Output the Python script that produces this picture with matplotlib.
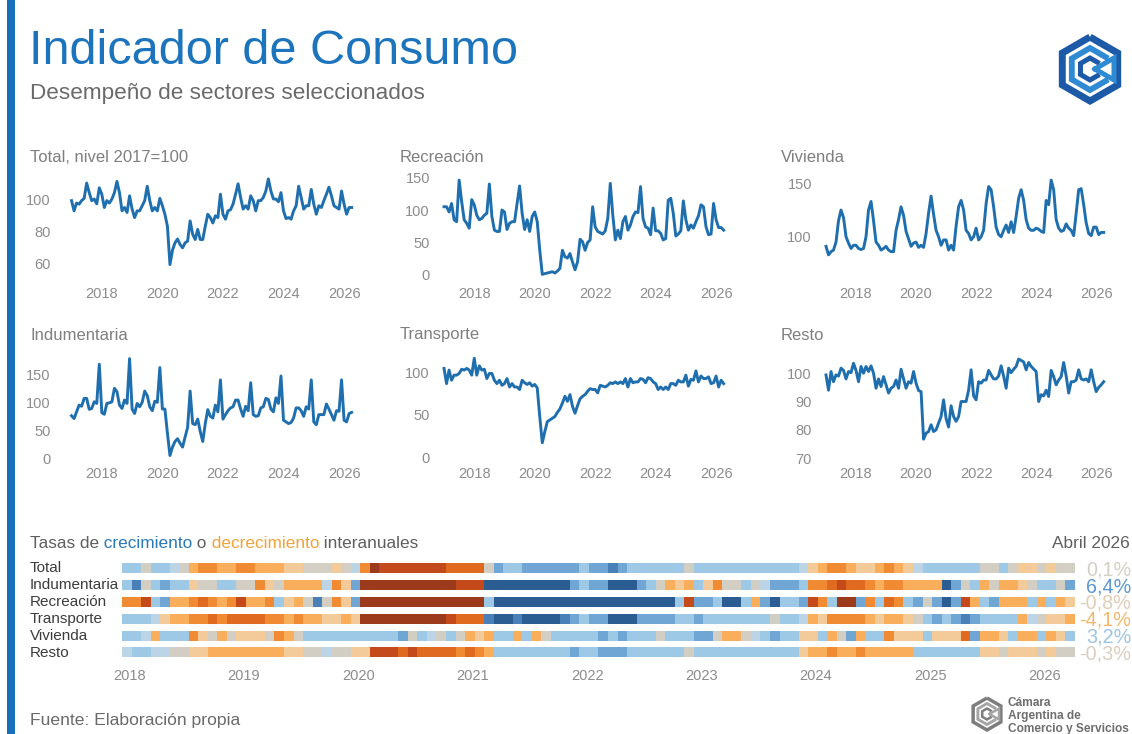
import numpy as np
import matplotlib
matplotlib.use('Agg')
import matplotlib.pyplot as plt
from matplotlib.colors import ListedColormap, BoundaryNorm, LinearSegmentedColormap
from matplotlib.patches import Rectangle
from matplotlib.transforms import blended_transform_factory

plt.rcParams['font.family'] = ['Liberation Sans', 'DejaVu Sans']

# ---------------- data: monthly indices, Jan 2017 - Apr 2026 (2017=100) ----------------
total = [99, 92.6, 97.5, 96.8, 99, 100.4, 110, 104, 99, 100, 97, 107,
         103, 94.7, 99, 97.5, 100, 104, 111, 104, 92.6, 94.7, 91.6, 102,
         93.7, 88.4, 92.6, 92.6, 95.8, 99, 108, 99, 92.6, 94.7, 92.6, 100.4,
         95.8, 90.5, 83, 59, 68, 72.6, 75, 71.6, 69.5, 72.6, 73.7, 86.3,
         78, 74.7, 81, 74.7, 74.7, 83, 90.5, 88.4, 85, 89.5, 88.4, 103,
         90.5, 87.4, 92.6, 93.3, 96.8, 103, 109.5, 101, 93.7, 95.8, 93.7, 102,
         99, 92.6, 99, 99, 101, 105, 112.6, 105, 100, 100, 98.3, 104,
         92.6, 87.8, 88.4, 87.4, 92.6, 95.8, 108, 101, 93.7, 95.8, 95.8, 106,
         96.8, 90.5, 95.8, 94.7, 99, 103, 107.4, 102, 95.8, 94.7, 93.7, 105,
         96.8, 90.5, 94.7, 94.7]

recreacion = [105, 105, 97, 110, 85, 82, 146, 113, 85, 79.5, 72, 116,
              108, 92, 85, 87, 92, 95, 140, 90, 69, 67, 67, 100,
              97, 70, 79.5, 82, 82, 110, 137, 95, 70, 85, 67, 90,
              97, 82, 38, 1, 2, 3, 4, 5, 3, 6, 10, 38,
              28, 26, 33, 20, 8, 20, 55, 51, 38, 50, 54, 105,
              74, 67, 65, 63, 68, 87, 141, 92, 54, 69, 56, 82,
              90, 69, 77, 90, 97, 96, 136, 87, 74, 72, 62, 103,
              68, 68, 64, 54, 56, 115, 118, 95, 60, 63, 68, 114,
              85, 69, 77, 72, 82, 91, 108, 105, 74, 62, 63, 110,
              85, 73, 73, 69]

vivienda = [91, 83, 86, 87.5, 95, 115, 125, 118, 100, 94, 89, 92,
            92, 89, 88, 89, 100, 125, 133, 115, 95, 92, 87.5, 89,
            91, 87.5, 86, 86, 106, 116, 128, 120, 105, 98, 91, 94,
            95, 90, 92, 90, 103, 122, 138, 121, 106, 100, 92, 97,
            97, 87.5, 92, 87.5, 110, 128, 134, 125, 106, 103, 97, 100,
            108, 97, 100, 106, 131, 147, 144, 128, 109, 102, 100, 106,
            111, 104, 114, 104, 119, 136, 144, 134, 116, 108, 106, 106,
            108, 107, 105, 104, 134, 130, 153, 144, 116, 108, 105, 106,
            112, 108, 106, 101, 122, 144, 145, 130, 113, 103, 101, 109,
            109, 102, 104, 104]

indumentaria = [76, 71, 83, 95, 93, 107, 107, 87.5, 89, 101, 98, 168,
                81.5, 78.6, 98, 99, 101, 125, 119, 95, 89, 104, 98, 178,
                88, 80, 98, 92, 100, 120, 112, 92, 85, 102, 100, 162,
                88, 88, 45, 5, 20, 30, 35, 27, 20, 38, 55, 120,
                62, 60, 70, 48, 30, 62, 87, 75, 72, 95, 83, 140,
                70, 78, 85, 90, 92, 104, 104, 88, 75, 93, 85, 135,
                78, 75, 76, 90, 92, 107, 105, 88, 83, 108, 98, 147,
                68, 65, 62, 64, 72, 90, 90, 85, 75, 92, 88, 140,
                65, 60, 78, 78, 78, 97, 88, 78, 68, 85, 84, 140,
                68, 65, 80, 82]

transporte = [105, 87, 103, 91, 97, 97, 99, 104, 103, 105, 103, 97,
              117, 97, 108, 103, 104, 93, 99, 99, 91, 87, 91, 85,
              87, 93, 83, 87, 83, 83, 80, 91, 88, 86, 88, 84,
              86, 82, 48, 17, 30, 42, 44, 46, 48, 53, 57, 64,
              72, 66, 74, 60, 52, 61, 69, 72, 74, 78, 81, 80,
              80, 76, 85, 84, 83, 85, 88, 87, 89, 87, 89, 87,
              93, 83, 93, 88, 89, 89, 93, 92, 88, 94, 93, 89,
              87, 80, 83, 80, 83, 80, 87, 87, 85, 91, 89, 89,
              97, 84, 92, 91, 102, 89, 96, 93, 93, 95, 87, 88,
              96, 83, 91, 87]

resto = [99.4, 94, 100.6, 97, 99.4, 99, 101.8, 101, 98, 100.6, 100.2, 103.5,
         101, 97, 102.4, 100, 102.4, 100.6, 102.6, 100, 94.7, 98, 95.3, 98.8,
         95.9, 93, 94.7, 95.3, 97.6, 94.7, 101.4, 98, 94.7, 97, 96.5, 100.6,
         96.5, 93.9, 93.5, 76.7, 78.8, 79.4, 81.8, 79.4, 80, 82.4, 84.7, 90.6,
         84, 81, 88.5, 84.7, 83, 84.7, 90, 90, 90, 94, 101.2, 92,
         90.6, 97, 96.5, 97.6, 97.6, 101, 99.4, 98, 98, 99, 102.6, 99,
         94.7, 101.8, 100.2, 101.4, 102.4, 105, 104.5, 104, 101.2, 103.8, 102.4, 101.5,
         100.6, 90, 92.4, 92, 94, 91.8, 101, 98.8, 95.9, 97.6, 98.8, 103.8,
         99, 93, 97, 97, 97.6, 101.2, 98, 97.6, 98, 97, 101.2, 97,
         93.5, 95, 95.9, 97]

# ---------------- data: year-on-year growth (%), Jan 2018 - Apr 2026 ----------------
heat_labels = ["Total", "Indumentaria", "Recreación", "Transporte", "Vivienda", "Resto"]
g_total = [3, 3, 0, 3, 3, 1, 0, -5, -7, -7,
           -5, -5, -7, -7, -5, -5, -5, -3, -3, 0,
           0, 0, -2, 0, 2, -10, -30, -25, -25, -20,
           -25, -20, -20, -20, -15, -12, -12, -12, 0, 10,
           5, 5, 10, 10, 10, 10, 7, 7, 5, 7,
           10, 15, 10, 5, 5, 5, 3, 3, 3, 0,
           3, 3, 3, 3, 3, 3, 3, 3, 5, 5,
           5, 1, -3, -5, -7, -7, -5, -3, -3, -5,
           -7, -5, -3, 1, 3, 5, 5, 3, 3, 3,
           0, 0, 3, 0, -2, -1, 0, -2, 0, 0.1]
g_indum = [5, 15, 0, 5, 10, 5, 5, -2, 0, 0,
           5, 5, 0, 0, -7, -3, 0, -5, -5, -5,
           -5, 2, -10, -2, 10, -40, -40, -40, -40, -40,
           -40, -40, -40, -40, -40, -20, -20, -25, 40, 40,
           40, 40, 40, 40, 40, 40, 40, 7, 5, 10,
           7, 30, 30, 30, 10, 5, 0, -5, -3, -5,
           5, -2, -10, 0, 0, 5, 0, 1, 10, 10,
           10, 5, -10, -10, -15, -25, -15, -15, -10, -5,
           -10, -10, -5, -5, -5, -5, 30, 10, 0, 5,
           -5, 0, -5, -5, -2, 0, 5, 5, 0, 6.4]
g_recre = [-10, -10, -20, 5, 10, -5, -5, -10, -12, -10,
           -5, -10, -20, -5, -5, -10, 5, -2, -5, 0,
           15, 0, -10, -1, 7, -40, -40, -40, -40, -40,
           -40, -40, -40, -40, -40, -40, -40, -40, 5, 40,
           40, 40, 40, 40, 40, 40, 40, 40, 40, 40,
           40, 40, 40, 40, 40, 40, 30, 30, 5, -20,
           10, 10, 5, 30, 30, 5, -5, 10, 30, 5,
           5, 10, -20, -10, 3, -30, -30, 10, -10, 5,
           -12, -10, 5, 10, 0, 10, 30, 10, -20, -5,
           5, 10, -5, -5, -5, 3, -5, 3, -5, -0.8]
g_transp = [5, 5, 3, 2, -3, -5, -5, -10, -10, -15,
            -10, -15, -12, -12, -12, -10, -10, -5, -10, -5,
            -5, -3, -3, -5, -2, -40, -40, -40, -40, -40,
            -40, -40, -40, -30, -20, -15, -12, -15, 15, 30,
            30, 20, 30, 30, 30, 30, 20, 10, 5, 10,
            10, 30, 30, 30, 10, 10, 10, 7, 5, 5,
            10, 5, 5, 5, 5, 5, 5, 5, 0, 5,
            5, 1, -5, -3, -7, -7, -7, -8, -5, -3,
            -5, -5, -3, 0, 5, 7, 5, 10, 15, 10,
            5, 5, 5, 5, -5, 2, 0, -2, -2, -4.1]
g_vivi = [3, 3, 1, -5, 5, 5, 5, -7, -1, 0,
          -5, 0, -1, -2, -2, 0, -7, -5, 0, 5,
          5, 3, 3, 3, 3, 3, 3, 3, 5, 7,
          0, 3, 2, 0, 3, 0, -5, -1, -5, 3,
          3, -5, 3, -5, 0, 3, 3, 5, 5, 5,
          10, 5, 7, 5, 5, 5, 0, 3, 5, 3,
          7, 10, 0, -5, -5, 0, 1, 5, 10, 5,
          5, -2, -2, 5, -5, 0, 10, -5, 5, 5,
          -7, -2, -2, -2, 3, -2, -2, -1, -15, 10,
          -5, -5, -2, 5, -5, -5, 3, -5, -2, 3.2]
g_resto = [2, 3, 3, 2, 2, 0, 0, -3, -3, -5,
           -5, -5, -5, -5, -5, -5, -5, -3, -3, 0,
           0, 2, 0, 0, -1, -2, -20, -20, -20, -15,
           -20, -15, -15, -12, -12, -10, -12, -10, -5, 5,
           5, 3, 3, 5, 5, 5, 5, 7, 5, 5,
           7, 10, 10, 5, 5, 5, 5, 5, 3, 0,
           5, 5, 5, 5, 5, 5, 5, 5, 5, 5,
           5, -1, -5, -5, -8, -5, -5, -8, -5, -5,
           -5, -5, -5, 3, 3, 5, 5, 5, 3, 3,
           -1, -1, 0, -2, -3, -3, 0, -2, 0, -0.3]
heat_rows = [g_total, g_indum, g_recre, g_transp, g_vivi, g_resto]
heat_years = ["2018", "2019", "2020", "2021", "2022", "2023", "2024", "2025", "2026"]

# ---------------- figure ----------------
W, H = 1132, 734
fig = plt.figure(figsize=(W / 100, H / 100), dpi=100)
fig.patch.set_facecolor('white')


def box(l, t, r, b):
    return [l / W, 1 - b / H, (r - l) / W, (b - t) / H]


bg = fig.add_axes([0, 0, 1, 1])
bg.set_xlim(0, W)
bg.set_ylim(H, 0)
bg.axis('off')

# left accent bar
bg.add_patch(Rectangle((7, 0), 8, H, color='#1a6fb9', lw=0))

# titles
bg.text(29, 52, "Indicador de Consumo", fontsize=35, color='#1c75bc', va='center', ha='left')
bg.text(30, 93, "Desempeño de sectores seleccionados", fontsize=16.2, color='#6a6a6a',
        va='center', ha='left')


def hexlogo(cx, cy, s, c_dark, c_light):
    def pts(r, angs):
        return ([cx + r * np.cos(np.radians(a)) for a in angs],
                [cy - r * np.sin(np.radians(a)) for a in angs])
    xs_, ys_ = pts(32 * s, [90, 150, 210, 270, 330, 30, 90])
    bg.plot(xs_, ys_, color=c_dark, lw=5 * s, solid_joinstyle='miter', solid_capstyle='butt')
    xs_, ys_ = pts(21 * s, [30, 90, 150, 210, 270, 330])
    bg.plot(xs_, ys_, color=c_light, lw=4.2 * s, solid_joinstyle='miter', solid_capstyle='butt')
    xs_, ys_ = pts(11 * s, [30, 90, 150, 210, 270, 330])
    bg.plot(xs_, ys_, color=c_dark, lw=3.6 * s, solid_joinstyle='miter', solid_capstyle='butt')
    bg.plot([cx + 5 * s, cx + 24 * s, cx + 24 * s, cx + 5 * s],
            [cy, cy - 11 * s, cy + 11 * s, cy], color=c_light, lw=3.6 * s,
            solid_joinstyle='miter')


hexlogo(1090, 69, 1.0, '#1c5aa8', '#2f8ad4')
hexlogo(987, 714, 0.5, '#7d7d7d', '#a5a5a5')
for i, line in enumerate(["Cámara", "Argentina de", "Comercio y Servicios"]):
    bg.text(1008, 703 + 13 * i, line, fontsize=8.6, fontweight='bold', color='#6e6e6e',
            va='center', ha='left')

bg.text(30, 721, "Fuente: Elaboración propia", fontsize=12.6, color='#6a6a6a', va='center')

# ---------------- small multiples ----------------
xs = 2017 + np.arange(len(total)) / 12.0
LINE_C = '#1f6fae'
GREY = '#8c8c8c'
panels = [
    ("Total, nivel 2017=100", total, (68.5, 358), (172, 279), (50.0, 116.9), [60, 80, 100], 13, 30, 157),
    ("Recreación", recreacion, (441, 730), (172, 279), (-6.2, 158.5), [0, 50, 100, 150], 8, 400, 157),
    ("Vivienda", vivienda, (823, 1110), (172, 279), (60.4, 160.6), [100, 150], 8, 781, 157),
    ("Indumentaria", indumentaria, (68.5, 358), (352, 459), (-1.2, 189.8), [0, 50, 100, 150], 13, 30, 335),
    ("Transporte", transporte, (441, 730), (352, 459), (-2.2, 124.4), [0, 50, 100], 8, 400, 335),
    ("Resto", resto, (823, 1110), (352, 459), (69.7, 107.5), [70, 80, 90, 100], 8, 781, 335),
]
for title, data, (l, r), (t, b), ylim, yt, ypad, tx, ty in panels:
    ax = fig.add_axes(box(l, t, r, b))
    ax.plot(xs, data, color=LINE_C, lw=2.1, solid_joinstyle='round')
    ax.set_xlim(2016.9, 2026.46)
    ax.set_ylim(*ylim)
    ax.set_xticks([2018, 2020, 2022, 2024, 2026])
    ax.set_xticklabels(["2018", "2020", "2022", "2024", "2026"])
    ax.set_yticks(yt)
    ax.tick_params(axis='both', length=0, labelsize=10.5, labelcolor=GREY)
    ax.tick_params(axis='x', pad=6)
    ax.tick_params(axis='y', pad=ypad)
    for sp in ax.spines.values():
        sp.set_visible(False)
    ax.set_facecolor('none')
    bg.text(tx, ty, title, fontsize=12, color='#7f7f7f', va='center', ha='left')

# ---------------- heat strip ----------------
colors = ['#9c3a1c', '#c44a1c', '#e06a20', '#f08a33', '#f9ae5c', '#f3cb9a',
          '#d3cec4', '#bcd5e6', '#9dc8e6', '#6fa6d4', '#4a80b8', '#2b5d93']
bounds = [-1000, -27, -17, -11, -6, -3.5, -0.5, 0.5, 2.5, 6, 12, 25, 1000]
cmap = ListedColormap(colors)
norm = BoundaryNorm(bounds, cmap.N)

axh = fig.add_axes(box(122, 560, 1075, 661))
ncell = len(g_total)
for rr, vals in enumerate(heat_rows):
    axh.imshow(np.array([vals]), cmap=cmap, norm=norm, aspect='auto',
               interpolation='nearest', extent=(0, ncell, rr + 0.29, rr - 0.29))
axh.set_xlim(0, ncell)
axh.set_ylim(len(heat_rows) - 0.5, -0.5)
axh.set_xticks([12 * k + 0.8 for k in range(len(heat_years))])
axh.set_xticklabels(heat_years)
axh.set_yticks([])
axh.tick_params(axis='x', length=0, labelsize=10.5, labelcolor=GREY, pad=6)
for sp in axh.spines.values():
    sp.set_visible(False)
axh.set_facecolor('none')

tr = blended_transform_factory(fig.transFigure, axh.transData)
lbl_cmap = LinearSegmentedColormap.from_list(
    'lbl', ['#e07b20', '#f5a742', '#f0c9a0', '#d6cfc4', '#a9cce6', '#6fa8d8', '#3f7fbf'])
for rr, (name, vals) in enumerate(zip(heat_labels, heat_rows)):
    axh.text(30 / W, rr, name, transform=tr, fontsize=11, color='#3c3c3c',
             va='center', ha='left')
    v = vals[-1]
    s = f"{v:.1f}%".replace('.', ',')
    c = lbl_cmap(np.clip((v + 8) / 16, 0, 1))
    axh.text(1131 / W, rr + 0.08, s, transform=tr, fontsize=14.2, color=c,
             va='center', ha='right')

# heat title with coloured words
pieces = [("Tasas de", '#5f5f5f'), (" crecimiento", '#2a78b5'), (" o", '#5f5f5f'),
          (" decrecimiento", '#f2a23a'), (" interanuales", '#5f5f5f')]
prev = bg.text(30, 551, pieces[0][0], fontsize=12.4, color=pieces[0][1], va='bottom', ha='left')
for txt, col in pieces[1:]:
    prev = bg.annotate(txt, xy=(1, 0), xycoords=prev, fontsize=12.4, color=col,
                       va='bottom', ha='left')
bg.text(1130, 543, "Abril 2026", fontsize=12.4, color='#5f5f5f', va='center', ha='right')

fig.savefig('out.png', dpi=100, facecolor='white')
